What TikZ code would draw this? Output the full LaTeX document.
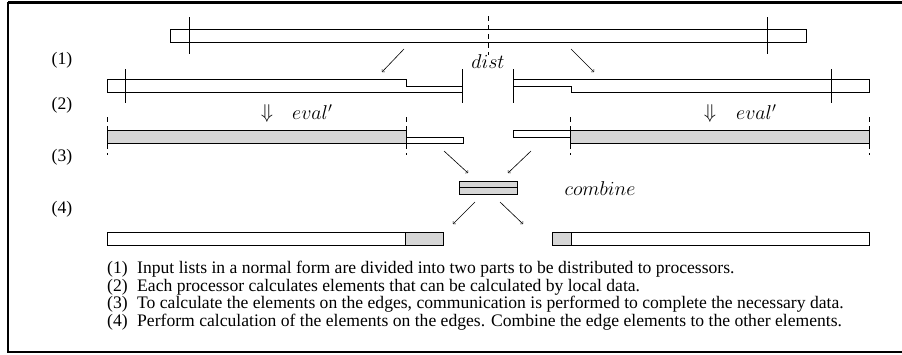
\RequirePackage{fix-cm}
\documentclass[tikz,border=0pt]{standalone}
\usepackage{fontspec}
\setmainfont{Liberation Serif}
\usepackage{amsmath}
\usetikzlibrary{positioning}

\tikzset{
  bar/.style={draw, line width=0.8pt, fill=white},
  edgebar/.style={draw, line width=0.8pt, fill=black!16},
  tick/.style={line width=1pt},
  cut/.style={line width=1pt, dash pattern=on 5pt off 4pt},
  go/.style={->, line width=0.6pt},
  lbl/.style={font=\fontsize{17.6}{20}\selectfont, inner sep=0pt},
  op/.style={font=\fontsize{20}{24}\selectfont, inner sep=0pt},
  captxt/.style={font=\fontsize{17.6}{20}\selectfont, inner sep=0pt, anchor=base west},
}

\begin{document}
\begin{tikzpicture}[x=1pt,y=-1pt]
      \useasboundingbox (0,0) rectangle (902,354);
      \draw[line width=1.5pt] (904,2.5) -- (8,2.5) -- (8,352) -- (904,352);
      \draw[line width=3pt] (8,2) -- (904,2);

      % step labels
      \node[lbl] (s1) at (62,60) {(1)};
      \node[lbl] (s2) at (62,105) {(2)};
      \node[lbl] (s3) at (62,157) {(3)};
      \node[lbl] (s4) at (62,209) {(4)};

      % (1) the input list and its two halves
      \draw[bar] (170,29) rectangle (806,42);
      \draw[tick] (189,17) -- (189,54);
      \draw[tick] (767,17) -- (767,54);
      \draw[cut] (488,16) -- (488,55);
      \node[op] (dist) at (488,62) {$dist$};

      \coordinate (A) at (404,49);
      \coordinate (B) at (382,72);
      \coordinate (C) at (571,49);
      \coordinate (D) at (594,72);
      \draw[go] (A) -- (B);
      \draw[go] (C) -- (D);

      \draw[bar] (107,79) -- (406,79) -- (406,86) -- (462,86) -- (462,92) -- (107,92) -- cycle;
      \draw[tick] (125,69) -- (125,103);
      \draw[tick] (462,69) -- (462,103);
      \draw[bar] (513,79) -- (869,79) -- (869,92) -- (571,92) -- (571,86) -- (513,86) -- cycle;
      \draw[tick] (513,69) -- (513,103);
      \draw[tick] (831,69) -- (831,103);

      % (2) local evaluation
      \node[op] (dn1) at (267,113) {$\Downarrow$};
      \node[op, anchor=west] (ev1) at (292,112) {$eval'$};
      \node[op] (dn2) at (710,113) {$\Downarrow$};
      \node[op, anchor=west] (ev2) at (736,112) {$eval'$};

      \draw[edgebar] (107,130) rectangle (406,143);
      \draw[bar] (406,137) rectangle (463,143);
      \draw[bar] (513,130) rectangle (570,137);
      \draw[edgebar] (570,130) rectangle (869,143);
      \foreach \x in {107,406,570,869}
        \draw[cut] (\x,117) -- (\x,155);

      % (3) exchange of the edges
      \coordinate (E) at (444,151);
      \coordinate (F) at (468,173);
      \coordinate (G) at (531,151);
      \coordinate (H) at (508,173);
      \draw[go] (E) -- (F);
      \draw[go] (G) -- (H);

      \draw[edgebar] (459,181) rectangle (517,194);
      \draw[line width=0.8pt] (459,187.5) -- (517,187.5);
      \node[op] (comb) at (600,189) {$combine$};

      % (4) results
      \coordinate (I) at (475,202);
      \coordinate (J) at (453,224);
      \coordinate (K) at (500,202);
      \coordinate (L) at (523,224);
      \draw[go] (I) -- (J);
      \draw[go] (K) -- (L);

      \draw[bar] (107,232) rectangle (443,245);
      \draw[edgebar] (405,232) rectangle (443,245);
      \draw[bar] (552,232) rectangle (869,245);
      \draw[edgebar] (552,232) rectangle (571,245);
      \draw[line width=0.8pt] (107,232) rectangle (443,245);
      \draw[line width=0.8pt] (552,232) rectangle (869,245);

      % captions
      \node[captxt] (c1) at (107,273) {(1)};
      \node[captxt] (t1) at (137,273) {Input lists in a normal form are divided into two parts to be distributed to processors.};
      \node[captxt] (c2) at (107,291) {(2)};
      \node[captxt] (t2) at (137,291) {Each processor calculates elements that can be calculated by local data.};
      \node[captxt] (c3) at (107,308) {(3)};
      \node[captxt] (t3) at (137,308) {To calculate the elements on the edges, communication is performed to complete the necessary data.};
      \node[captxt] (c4) at (107,326) {(4)};
      \node[captxt] (t4) at (137,326) {Perform calculation of the elements on the edges. Combine the edge elements to the other elements.};
\end{tikzpicture}
\end{document}
